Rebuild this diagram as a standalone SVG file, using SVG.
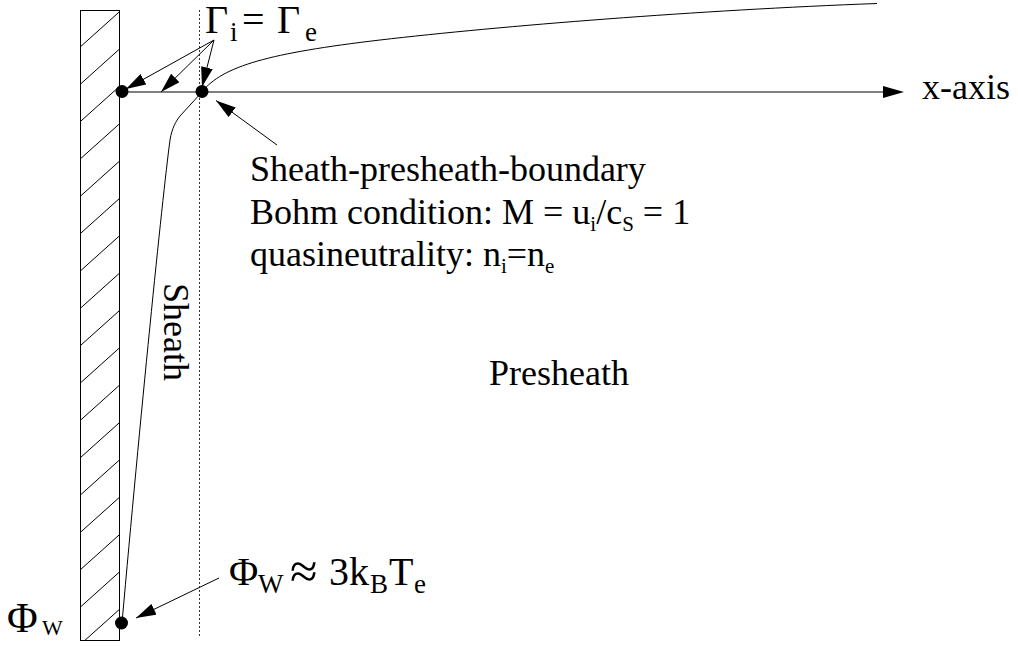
<svg xmlns="http://www.w3.org/2000/svg" width="1018" height="646" viewBox="0 0 1018 646">
<style>
text{font-family:"Liberation Serif","Times New Roman",serif;fill:#000}
.t{font-size:36px}
.big{font-size:40px}
.sub{font-size:21px}
.bsub{font-size:27px}
.ln{fill:none;stroke:#000;stroke-width:1}
.arr{fill:none;stroke:#000;stroke-width:1;marker-end:url(#ah)}
.dot{fill:#000}
</style>
<defs>
<marker id="ah" markerUnits="userSpaceOnUse" markerWidth="20" markerHeight="12" refX="20" refY="6" orient="auto" viewBox="0 0 20 12">
<path d="M0,0 L20,6 L0,12 z" fill="#000"/>
</marker>
<clipPath id="wallclip"><rect x="80.5" y="10.5" width="39" height="630"/></clipPath>
</defs>
<rect width="1018" height="646" fill="#fff"/>

<g id="wall">
<rect x="80.5" y="10.5" width="39" height="630" fill="#fff" stroke="#000" stroke-width="1"/>
<g clip-path="url(#wallclip)" stroke="#000" stroke-width="1">
<line x1="119.5" y1="-25.6" x2="80.5" y2="9.4"/>
<line x1="119.5" y1="11.7" x2="80.5" y2="46.7"/>
<line x1="119.5" y1="49.05" x2="80.5" y2="84.05"/>
<line x1="119.5" y1="86.4" x2="80.5" y2="121.4"/>
<line x1="119.5" y1="123.75" x2="80.5" y2="158.75"/>
<line x1="119.5" y1="161.1" x2="80.5" y2="196.1"/>
<line x1="119.5" y1="198.45" x2="80.5" y2="233.45"/>
<line x1="119.5" y1="235.8" x2="80.5" y2="270.8"/>
<line x1="119.5" y1="273.15" x2="80.5" y2="308.15"/>
<line x1="119.5" y1="310.5" x2="80.5" y2="345.5"/>
<line x1="119.5" y1="347.85" x2="80.5" y2="382.85"/>
<line x1="119.5" y1="385.2" x2="80.5" y2="420.2"/>
<line x1="119.5" y1="422.55" x2="80.5" y2="457.55"/>
<line x1="119.5" y1="459.9" x2="80.5" y2="494.9"/>
<line x1="119.5" y1="497.25" x2="80.5" y2="532.25"/>
<line x1="119.5" y1="534.6" x2="80.5" y2="569.6"/>
<line x1="119.5" y1="571.95" x2="80.5" y2="606.95"/>
<line x1="119.5" y1="609.3" x2="80.5" y2="644.3"/>
</g>
</g>

<g id="sheath-edge">
<line x1="199.5" y1="10" x2="199.5" y2="638" stroke="#333" stroke-width="1" stroke-dasharray="2,2"/>
</g>

<g id="connectors">
<line x1="122" y1="92" x2="884" y2="92" stroke="#555" stroke-width="1.3"/>
<path d="M883,86 L904,92 L883,98 z" fill="#000"/>
<path class="ln" d="M122,623 C140,420 162,200 170,140 C172,128 176,121 180,116 L202,92 C222,66 270,53 380,40 C500,26 700,10 877,3.5"/>
<line class="arr" x1="214" y1="40" x2="126" y2="89"/>
<line class="arr" x1="214" y1="40" x2="161" y2="92"/>
<line class="arr" x1="214" y1="40" x2="202" y2="87"/>
<line class="arr" x1="277" y1="145" x2="216" y2="100.5"/>
<line class="arr" x1="219" y1="578" x2="136" y2="618"/>
</g>

<g id="dots">
<circle class="dot" cx="122" cy="91.5" r="6.5"/>
<circle class="dot" cx="202" cy="91.5" r="6.5"/>
<circle class="dot" cx="121.5" cy="623" r="6.5"/>
</g>

<g id="label-gamma">
<text class="big" x="205" y="33">Γ</text>
<text class="bsub" x="230" y="41">i</text>
<text class="big" x="242" y="33">=</text>
<text class="big" x="277" y="33">Γ</text>
<text class="bsub" x="305" y="41">e</text>
</g>

<g id="label-xaxis">
<text class="t" x="922" y="99">x-axis</text>
</g>

<g id="label-boundary">
<text class="t" x="250" y="181">Sheath-presheath-boundary</text>
<text class="t" x="250" y="223.5">Bohm condition: M = u<tspan class="sub" dy="7">i</tspan><tspan dy="-7">/c</tspan><tspan class="sub" dy="7">S</tspan><tspan dy="-7"> = 1</tspan></text>
<text class="t" x="250" y="266">quasineutrality: n<tspan class="sub" dy="7">i</tspan><tspan dy="-7">=n</tspan><tspan class="sub" dy="7">e</tspan></text>
</g>

<g id="label-presheath">
<text class="t" x="489" y="385">Presheath</text>
</g>

<g id="label-sheath">
<text class="t" transform="translate(164,283) rotate(90)">Sheath</text>
</g>

<g id="label-phiw-right">
<text class="big" x="229" y="585">Φ</text>
<text class="bsub" x="258" y="593">W</text>
<text style="font-size:50px" x="290" y="588">≈</text>
<text class="big" x="329" y="585">3k</text>
<text class="bsub" x="370" y="593">B</text>
<text class="big" x="389" y="585">T</text>
<text class="bsub" x="414" y="593">e</text>
</g>

<g id="label-phiw-left">
<text style="font-size:42px" x="7" y="632">Φ</text>
<text style="font-size:22px" x="42" y="635">W</text>
</g>
</svg>
